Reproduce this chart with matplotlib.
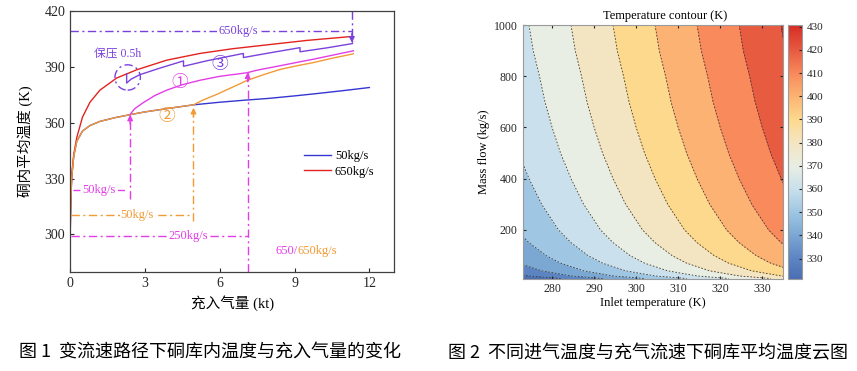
import numpy as np
import matplotlib.pyplot as plt
from matplotlib.colors import LinearSegmentedColormap, Normalize
from matplotlib.patches import Ellipse
import matplotlib.cm as cm

plt.rcParams['font.family'] = ['Liberation Serif', 'Noto Sans CJK SC']

# ---------------- Fig.1 data: temperature vs charged gas ----------------
x_50 = [0, 0.02, 0.04, 0.07, 0.15, 0.27, 0.5, 0.8, 1.2, 1.8, 2.4, 3.0, 4.0, 4.95,
        6.0, 7.0, 8.0, 9.0, 10.0, 11.0, 12.0]
t_50 = [294, 310, 321, 331, 342, 350, 355.5, 358.5, 360.7, 362.7, 364.3, 365.8, 367.8, 369.6,
        371.0, 372.1, 373.1, 374.4, 375.8, 377.3, 378.9]

x_650 = [0, 0.02, 0.04, 0.07, 0.15, 0.27, 0.5, 0.8, 1.2, 1.87, 2.67, 3.88, 5.21, 6.5,
         7.89, 9.5, 11.2]
t_650 = [294, 312, 322, 332, 343, 352, 363, 371, 377.5, 384, 388.4, 393.6, 397.2, 399.7,
         401.8, 404.2, 406.2]

# path 2: 50 kg/s up to 4.95 kt, then 650 kg/s
x_p2 = [0, 0.02, 0.04, 0.07, 0.15, 0.27, 0.5, 0.8, 1.2, 1.8, 2.4, 3.0, 4.0, 4.95,
        5.3, 5.88, 6.5, 7.08, 7.8, 8.42, 9.1, 9.76, 10.5, 11.36]
t_p2 = [294, 310, 321, 331, 342, 350, 355.5, 358.5, 360.7, 362.7, 364.3, 365.8, 367.8, 369.6,
        372.0, 375.2, 379.0, 382.6, 386.0, 388.6, 390.6, 392.3, 394.6, 397.0]

# path 1: 250 kg/s from 2.41 kt, 650 kg/s from 7.1 kt
x_p1 = [2.41, 2.6, 2.94, 3.4, 3.88, 4.5, 5.21, 6.0, 7.08, 7.5, 8.42, 9.1, 9.76, 10.5, 11.36]
t_p1 = [364.5, 367.6, 370.8, 374.6, 377.5, 380.4, 382.8, 384.9, 386.8, 388.2, 390.6, 392.4,
        394.1, 396.2, 398.6]

# path 3: 650 kg/s with 0.5 h pressure holds
x_p3 = [2.27, 2.27, 2.45, 2.8, 3.6, 4.55, 4.55, 5.5, 6.95, 6.95, 8.0, 9.22, 9.22, 10.3, 11.32]
t_p3 = [386.3, 381.3, 383.4, 385.8, 389.3, 393.2, 390.3, 393.3, 397.2, 395.0, 397.5, 400.3,
        398.1, 400.2, 402.5]

# ---------------- Fig.2 data: temperature contour ----------------
inlet_temp = [273, 283, 293, 303, 313, 323, 335]
mass_flow = [10, 20, 40, 70, 100, 150, 200, 300, 400, 500, 600, 700, 800, 900, 1000]
temp_table = [
    [321.0, 331.0, 341.0, 351.0, 361.0, 371.0, 383.0],
    [328.5, 338.5, 348.5, 358.5, 368.5, 378.5, 390.5],
    [335.5, 345.5, 355.5, 365.5, 375.5, 385.5, 397.5],
    [341.0, 351.0, 361.0, 371.0, 381.0, 391.0, 403.0],
    [344.5, 354.5, 364.5, 374.5, 384.5, 394.5, 406.5],
    [348.5, 358.5, 368.5, 378.5, 388.5, 398.5, 410.5],
    [351.5, 361.5, 371.5, 381.5, 391.5, 401.5, 413.5],
    [355.5, 365.5, 375.5, 385.5, 395.5, 405.5, 417.5],
    [358.5, 368.5, 378.5, 388.5, 398.5, 408.5, 420.5],
    [361.0, 371.0, 381.0, 391.0, 401.0, 411.0, 423.0],
    [363.0, 373.0, 383.0, 393.0, 403.0, 413.0, 425.0],
    [364.7, 374.7, 384.7, 394.7, 404.7, 414.7, 426.7],
    [366.0, 376.0, 386.0, 396.0, 406.0, 416.0, 428.0],
    [367.5, 377.5, 387.5, 397.5, 407.5, 417.5, 429.5],
    [368.5, 378.5, 388.5, 398.5, 408.5, 418.5, 430.5],
]
levels = [320, 330, 340, 350, 360, 370, 380, 390, 400, 410, 420, 430, 432]
band_colors = ['#4b6fb4', '#5d84c2', '#7ba7d3', '#9fc7e3', '#cae0ec', '#e8eee3',
               '#f4e5c2', '#fdd98e', '#fcb272', '#f88a5c', '#e75b41', '#d73027']

c_blue, c_red, c_orange = '#3535d2', '#e2231f', '#f29a35'
c_mag, c_vio = '#e33de6', '#7a42dc'
dashdot = (0, (6, 2.5, 1.5, 2.5))

fig = plt.figure(figsize=(8.57, 3.71), dpi=100)

# ======================= left chart =======================
ax = fig.add_axes([0.0817, 0.2677, 0.3784, 0.7027])
ax.plot(x_50, t_50, color=c_blue, lw=1.0, label='50kg/s')
ax.plot(x_650, t_650, color=c_red, lw=1.0, label='650kg/s')
ax.plot(x_p2, t_p2, color=c_orange, lw=1.0)
ax.plot(x_p1, t_p1, color=c_mag, lw=1.0)
ax.plot(x_p3, t_p3, color=c_vio, lw=1.0)


def vline_arrow(x, y0, y1, color):
    ax.plot([x, x], [y0, y1], color=color, lw=1.0, ls=dashdot)
    d = 5 if y1 > y0 else -5
    ax.annotate('', xy=(x, y1), xytext=(x, y1 - d),
                arrowprops=dict(arrowstyle='-|>', color=color, lw=1.0,
                                mutation_scale=8, shrinkA=0, shrinkB=0))


lbl = dict(fontsize=9, ha='center', va='center',
           bbox=dict(fc='white', ec='none', pad=0.8))

# 650 kg/s (path 3)
ax.plot([0, 11.3], [409.5, 409.5], color=c_vio, lw=1.0, ls=dashdot)
ax.text(6.75, 409.5, '650kg/s', color=c_vio, **lbl)
vline_arrow(11.3, 420, 403, c_vio)
ax.add_patch(Ellipse((2.31, 384.3), 1.02, 13.6, fill=False, ec=c_vio, lw=1.0, ls=dashdot))
ax.text(1.9, 397.3, '保压 0.5h', color=c_vio, fontsize=8.5, ha='center', va='center')

# path 1
ax.plot([0.1, 2.2], [324.1, 324.1], color=c_mag, lw=1.0, ls=(0, (5, 3)))
ax.text(1.14, 324.1, '50kg/s', color=c_mag, **lbl)
vline_arrow(2.41, 319, 364.3, c_mag)
ax.plot([0.05, 7.12], [299.1, 299.1], color=c_mag, lw=1.0, ls=dashdot)
ax.text(4.74, 299.1, '250kg/s', color=c_mag, **lbl)
vline_arrow(7.12, 280, 387, c_mag)

# path 2
ax.plot([0.05, 4.95], [310.7, 310.7], color=c_orange, lw=1.0, ls=dashdot)
ax.text(2.7, 310.7, '50kg/s', color=c_orange, **lbl)
vline_arrow(4.95, 307, 368, c_orange)

ax.text(9.12, 291, '650/', color=c_mag, fontsize=9, ha='right', va='center')
ax.text(9.12, 291, '650kg/s', color=c_orange, fontsize=9, ha='left', va='center')

circ = dict(fontsize=12, ha='center', va='center', family=['Noto Sans CJK SC'])
ax.text(4.41, 381.6, '①', color=c_mag, **circ)
ax.text(3.88, 363.2, '②', color=c_orange, **circ)
ax.text(5.99, 391.4, '③', color=c_vio, **circ)

ax.set_xlim(0, 13)
ax.set_ylim(280, 420)
ax.set_xticks([0, 3, 6, 9, 12])
ax.set_yticks([300, 330, 360, 390, 420])
ax.tick_params(direction='in', labelsize=10, length=3, colors='#262626')
for s in ax.spines.values():
    s.set_color('#404040')
    s.set_linewidth(0.9)
ax.set_xlabel('充入气量 (kt)', fontsize=10.5, labelpad=4)
ax.set_ylabel('硐内平均温度 (K)', fontsize=10.5, labelpad=8)
ax.legend(loc='upper left', bbox_to_anchor=(0.72, 0.465), frameon=False, fontsize=9,
          handlelength=2.2, handletextpad=0.3, labelspacing=0.25,
          borderaxespad=0, borderpad=0)

# ======================= right chart =======================
ax2 = fig.add_axes([0.6099, 0.2493, 0.3041, 0.6833])
T = np.array(temp_table)
ax2.contourf(inlet_temp, mass_flow, T, levels=levels, colors=band_colors)
ax2.contour(inlet_temp, mass_flow, T, levels=levels[1:-1], colors='#3a3a3a',
            linewidths=0.6, linestyles=[(0, (2, 2))])
ax2.set_xlim(273, 335)
ax2.set_ylim(10, 1000)
ax2.set_xticks([280, 290, 300, 310, 320, 330])
ax2.set_yticks([200, 400, 600, 800, 1000])
ax2.tick_params(direction='in', labelsize=8.5, length=2.5, top=True, right=True,
                colors='#262626')
for s in ax2.spines.values():
    s.set_color('#9a9a9a')
    s.set_linewidth(0.8)
ax2.set_xlabel('Inlet temperature (K)', fontsize=9, labelpad=1)
ax2.set_ylabel('Mass flow (kg/s)', fontsize=9, labelpad=3)
fig.text(665 / 857, 1 - 16 / 371, 'Temperature contour (K)', fontsize=9,
         ha='center', va='center')

cax = fig.add_axes([0.9198, 0.2493, 0.0156, 0.6833])
cb_vals = [321.4] + levels[1:-1] + [430.7]
cb_cols = band_colors + ['#d73027']
norm = Normalize(321.4, 430.7)
cmap = LinearSegmentedColormap.from_list(
    'tc', [(min(1.0, (v - 321.4) / (430.7 - 321.4)), c) for v, c in zip(cb_vals, cb_cols)])
cb = fig.colorbar(cm.ScalarMappable(norm=norm, cmap=cmap), cax=cax)
cb.set_ticks(levels[1:-1])
cb.ax.tick_params(direction='in', labelsize=8, length=2.5, colors='#262626')
cb.outline.set_edgecolor('#9a9a9a')
cb.outline.set_linewidth(0.8)

# ======================= captions =======================
cap = dict(fontsize=13, family=['Noto Sans CJK SC'], va='center', ha='left')
fig.text(19 / 857, 1 - 353 / 371, '图 1  变流速路径下硐库内温度与充入气量的变化', **cap)
fig.text(448 / 857, 1 - 353 / 371, '图 2  不同进气温度与充气流速下硐库平均温度云图', **cap)

fig.savefig('out.png', dpi=100)
